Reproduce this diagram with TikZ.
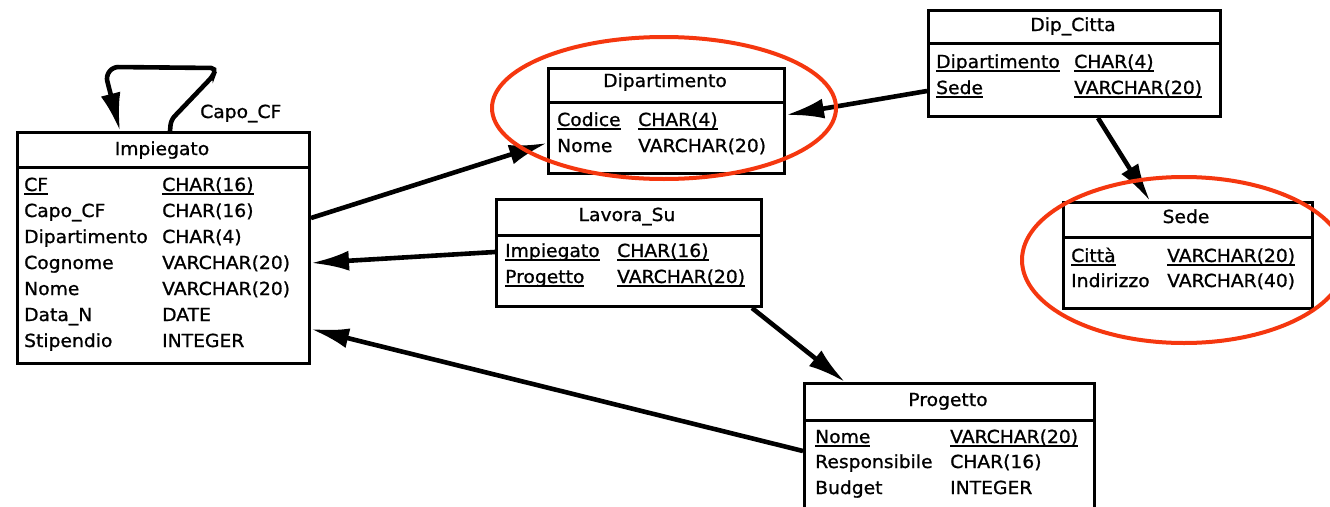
\documentclass[tikz,border=0pt]{standalone}
\usepackage{fontspec}
\setmainfont{DejaVu Sans}[FakeStretch=1.04,FakeBold=1.0]
\usetikzlibrary{arrows.meta}
\definecolor{ringred}{RGB}{245,55,15}

% underlined key attribute: fixed rule just below the baseline
\newcommand\keyline[1]{\setbox0\hbox{#1}\rlap{\rule[-3.5pt]{\wd0}{1.5pt}}\box0}

\tikzset{
  tbl/.style={draw, line width=3pt, rectangle, inner sep=0pt, anchor=north west},
  sepline/.style={line width=3pt},
  txt/.style={anchor=base, inner sep=0pt, font=\fontsize{18}{21}\selectfont},
  fld/.style={anchor=base west, inner sep=0pt, font=\fontsize{18}{21}\selectfont},
  fk/.style={line width=4.6pt, -{Latex[length=38pt,width=20pt]}},
  ring/.style={draw=ringred, line width=4pt},
}

\begin{document}
\begin{tikzpicture}[x=1pt, y=-1pt]
\useasboundingbox (0,0) rectangle (1330,506);
\clip (0,0) rectangle (1330,506);
\fill[white] (0,0) rectangle (1330,506);

% ---------- Impiegato ----------
\node[tbl, minimum width=292pt, minimum height=231pt] (imp) at (16,131) {};
\draw[sepline] (imp.west |- 0,167) -- (imp.east |- 0,167);
\node[txt] (impT) at (162,155) {Impiegato};
\node[fld] (impA1) at (24,191) {\keyline{CF}};
\node[fld] (impB1) at (162,191) {\keyline{CHAR(16)}};
\node[fld] (impA2) at (24,217) {Capo\_CF};
\node[fld] (impB2) at (162,217) {CHAR(16)};
\node[fld] (impA3) at (24,243) {Dipartimento};
\node[fld] (impB3) at (162,243) {CHAR(4)};
\node[fld] (impA4) at (24,269) {Cognome};
\node[fld] (impB4) at (162,269) {VARCHAR(20)};
\node[fld] (impA5) at (24,295) {Nome};
\node[fld] (impB5) at (162,295) {VARCHAR(20)};
\node[fld] (impA6) at (24,321) {Data\_N};
\node[fld] (impB6) at (162,321) {DATE};
\node[fld] (impA7) at (24,347) {Stipendio};
\node[fld] (impB7) at (162,347) {INTEGER};

% ---------- Dipartimento ----------
\node[tbl, minimum width=236pt, minimum height=105pt] (dip) at (547,67) {};
\draw[sepline] (dip.west |- 0,102) -- (dip.east |- 0,102);
\node[txt] (dipT) at (665,87) {Dipartimento};
\node[fld] (dipA1) at (557,126) {\keyline{Codice}};
\node[fld] (dipB1) at (638,126) {\keyline{CHAR(4)}};
\node[fld] (dipA2) at (557,152) {Nome};
\node[fld] (dipB2) at (638,152) {VARCHAR(20)};

% ---------- Dip_Citta ----------
\node[tbl, minimum width=292pt, minimum height=106pt] (dc) at (927,9) {};
\draw[sepline] (dc.west |- 0,43) -- (dc.east |- 0,43);
\node[txt] (dcT) at (1073,31) {Dip\_Citta};
\node[fld] (dcA1) at (936,68) {\keyline{Dipartimento}};
\node[fld] (dcB1) at (1074,68) {\keyline{CHAR(4)}};
\node[fld] (dcA2) at (936,94) {\keyline{Sede}};
\node[fld] (dcB2) at (1074,94) {\keyline{VARCHAR(20)}};

% ---------- Sede ----------
\node[tbl, minimum width=249pt, minimum height=106pt] (sede) at (1062,201) {};
\draw[sepline] (sede.west |- 0,237) -- (sede.east |- 0,237);
\node[txt] (sedeT) at (1186,223) {Sede};
\node[fld] (sedeA1) at (1071,262) {\keyline{Città}};
\node[fld] (sedeB1) at (1167,262) {\keyline{VARCHAR(20)}};
\node[fld] (sedeA2) at (1071,287) {Indirizzo};
\node[fld] (sedeB2) at (1167,287) {VARCHAR(40)};

% ---------- Lavora_Su ----------
\node[tbl, minimum width=265pt, minimum height=107pt] (lav) at (495,198) {};
\draw[sepline] (lav.west |- 0,235) -- (lav.east |- 0,235);
\node[txt] (lavT) at (627,221) {Lavora\_Su};
\node[fld] (lavA1) at (505,257) {\keyline{Impiegato}};
\node[fld] (lavB1) at (617,257) {\keyline{CHAR(16)}};
\node[fld] (lavA2) at (505,283) {\keyline{Progetto}};
\node[fld] (lavB2) at (617,283) {\keyline{VARCHAR(20)}};

% ---------- Progetto ----------
\node[tbl, minimum width=290pt, minimum height=150pt] (prog) at (803,382) {};
\draw[sepline] (prog.west |- 0,420) -- (prog.east |- 0,420);
\node[txt] (progT) at (948,406) {Progetto};
\node[fld] (progA1) at (815,443) {\keyline{Nome}};
\node[fld] (progB1) at (950,443) {\keyline{VARCHAR(20)}};
\node[fld] (progA2) at (815,468) {Responsibile};
\node[fld] (progB2) at (950,468) {CHAR(16)};
\node[fld] (progA3) at (815,494) {Budget};
\node[fld] (progB3) at (950,494) {INTEGER};

% ---------- references ----------
\draw[fk, rounded corners=5pt] (imp.north -| 170,0) -- (171,120) -- (213,76) -- (216,68)
   -- (113,67) -- (106,76) -- (imp.north -| 120,0);
\node[fld] (capo) at (200,118) {Capo\_CF};

\draw[fk] (imp.east |- 0,218) -- (dip.west |- 0,143);
\draw[fk] (dc.west |- 0,91) -- (dip.east |- 0,115);
\draw[fk] (dc.south -| 1098,0) -- (sede.north -| 1150,0);
\draw[fk] (lav.west |- 0,252) -- (imp.east |- 0,263);
\draw[fk] (lav.south -| 752,0) -- (prog.north -| 845,0);
\draw[fk] (prog.west |- 0,451) -- (imp.east |- 0,329);

% ---------- highlight rings ----------
\draw[ring] (664,108) ellipse [x radius=172, y radius=71];
\draw[ring] (1184,260) ellipse [x radius=162, y radius=83];
\end{tikzpicture}
\end{document}
